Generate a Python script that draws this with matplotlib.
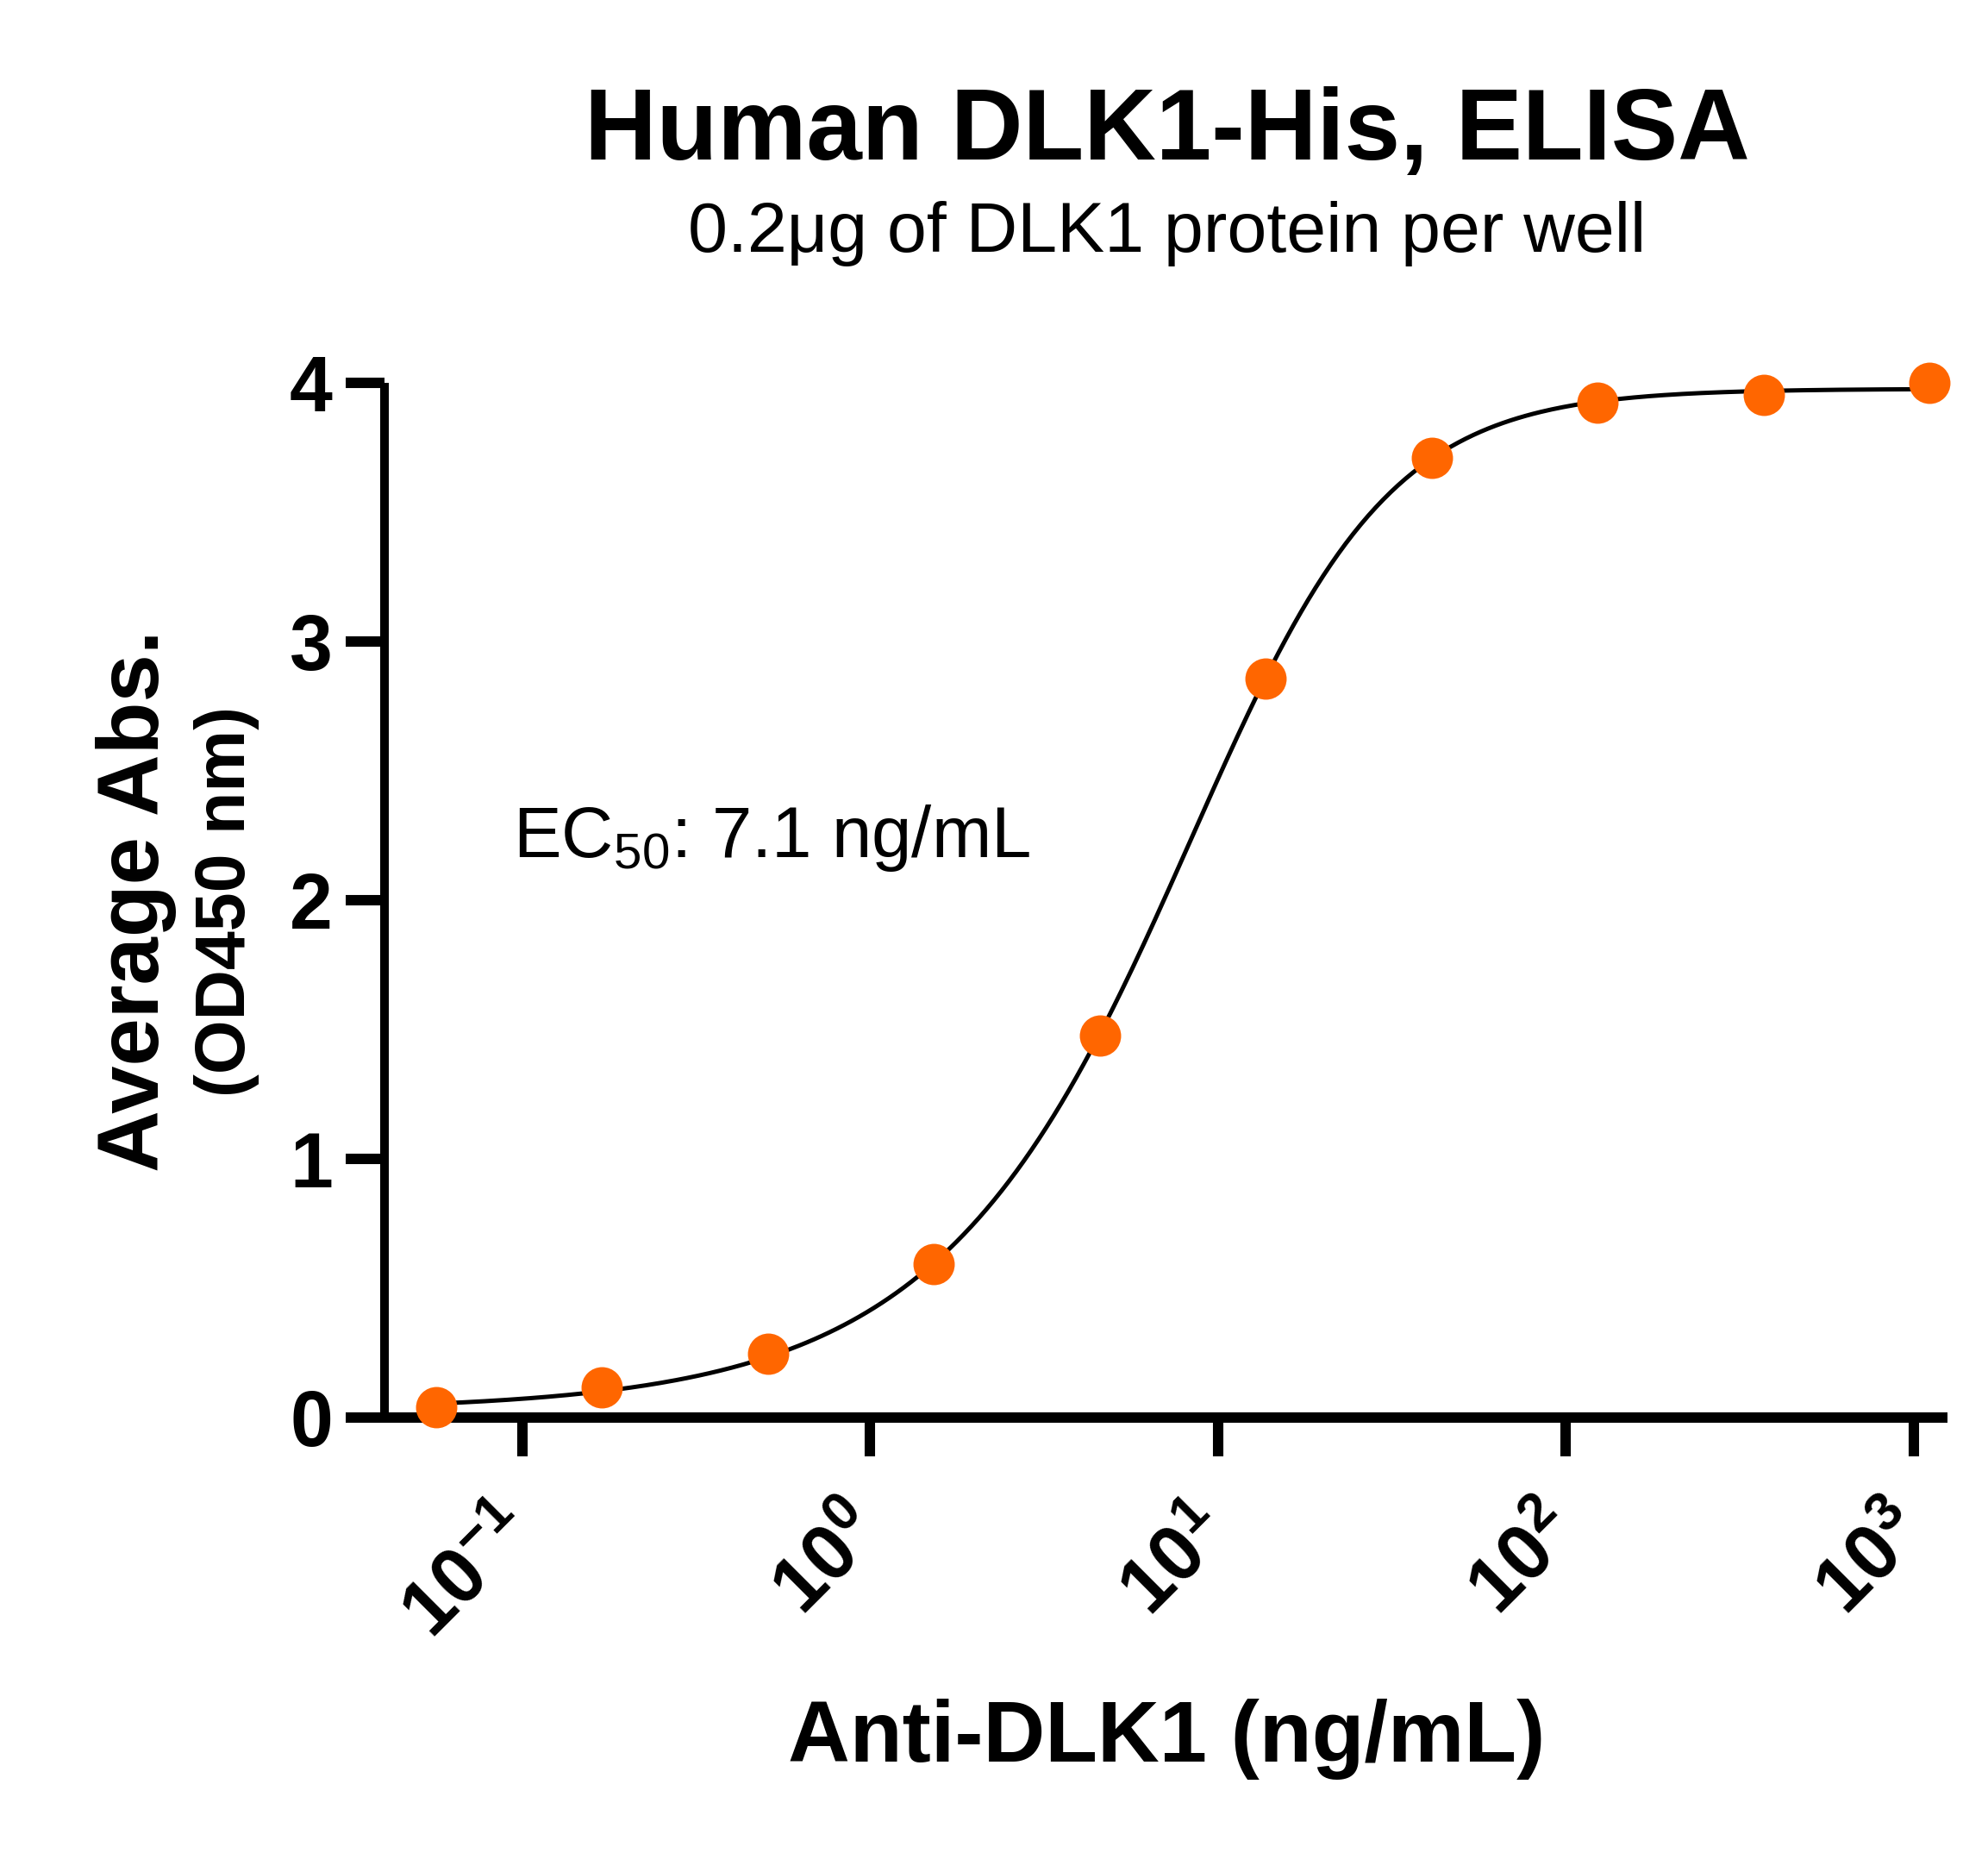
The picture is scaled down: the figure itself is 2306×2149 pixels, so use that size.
import numpy as np
import matplotlib
matplotlib.use("Agg")
import matplotlib.pyplot as plt
from matplotlib.ticker import FixedLocator, FuncFormatter, NullLocator

plt.rcParams['font.family'] = ['Liberation Sans', 'DejaVu Sans']
plt.rcParams['mathtext.default'] = 'regular'

# data: 3-fold dilution series of anti-DLK1 (ng/mL) and mean OD450
conc = [0.0565, 0.1694, 0.508, 1.524, 4.572, 13.72, 41.15, 123.5, 370.4, 1111]
od450 = [0.04, 0.115, 0.245, 0.593, 1.477, 2.855, 3.71, 3.923, 3.953, 4.0]
decades = [-1, 0, 1, 2, 3]
yticks = [0, 1, 2, 3, 4]

title = "Human DLK1-His, ELISA"
subtitle = "0.2\u03bcg of DLK1 protein per well"
xlab = "Anti-DLK1 (ng/mL)"
ylab1 = "Average Abs."
ylab2 = "(OD450 nm)"
ec50_text = "EC$_{50}$: 7.1 ng/mL"

x = np.array(conc)
y = np.array(od450)


# 5PL fit: grid over ec / hill / asymmetry, bottom & top by least squares
def fit5pl(x, y):
    lec = np.linspace(0.2, 1.4, 121)[:, None, None, None]
    h = np.linspace(0.7, 2.2, 61)[None, :, None, None]
    s = np.geomspace(0.4, 2.5, 31)[None, None, :, None]
    f = 1.0 / (1.0 + (10**lec / x)**h)**s
    g = 1 - f
    # normal equations for y = b*g + t*f
    a11 = (g * g).sum(-1); a12 = (g * f).sum(-1); a22 = (f * f).sum(-1)
    r1 = (g * y).sum(-1); r2 = (f * y).sum(-1)
    det = a11 * a22 - a12**2
    b = (a22 * r1 - a12 * r2) / det
    t = (a11 * r2 - a12 * r1) / det
    res = ((b[..., None] * g + t[..., None] * f - y)**2).sum(-1)
    i = np.unravel_index(np.argmin(res), res.shape)
    return b[i], t[i], 10**lec.ravel()[i[0]], h.ravel()[i[1]], s.ravel()[i[2]]


bot, top, ec, hill, asym = fit5pl(x, y)
xs = np.geomspace(x.min(), x.max(), 400)
ys = bot + (top - bot) / (1 + (ec / xs)**hill)**asym

fig = plt.figure(figsize=(2306 / 300, 2149 / 300), dpi=300)
ax = fig.add_axes([0.1934, 0.2350, 0.9796 - 0.1934, 0.7934 - 0.2350])

ax.plot(xs, ys, color='black', lw=1.2, zorder=2, clip_on=False)
ax.plot(x, y, 'o', color='#FF6600', ms=11.5, mec='none', zorder=3, clip_on=False)

ax.set_xscale('log')
ax.set_xlim(10**-1.3965, 10**3.0967)
ax.set_ylim(0, 4)

ax.xaxis.set_major_locator(FixedLocator([10.0**d for d in decades]))
ax.xaxis.set_minor_locator(NullLocator())
ax.xaxis.set_major_formatter(FuncFormatter(lambda v, p: r'$10^{%d}$' % round(np.log10(v))))
ax.set_yticks(yticks)

for s in ['top', 'right']:
    ax.spines[s].set_visible(False)
ax.spines['left'].set_linewidth(2.4)
ax.spines['bottom'].set_linewidth(2.9)
for s in ['left', 'bottom']:
    ax.spines[s].set_capstyle('butt')

ax.tick_params(axis='both', length=10.8, width=2.9, labelsize=21.5)
ax.tick_params(axis='y', pad=3.6)
ax.tick_params(axis='x', pad=18)
for lab in ax.get_yticklabels():
    lab.set_fontweight('bold')
for lab in ax.get_xticklabels():
    lab.set_fontweight('bold')
    lab.set_rotation(45)
    lab.set_ha('right')
    lab.set_va('center')
    lab.set_rotation_mode('anchor')

ax.text(0.094, 2.24, ec50_text, fontsize=20, va='center', ha='left')

fig.text(0.587, 0.928, title, fontsize=27.8, fontweight='bold', ha='center', va='center')
fig.text(0.587, 0.874, subtitle, fontsize=19.8, ha='center', va='center')
fig.text(0.587, 0.0614, xlab, fontsize=23.9, fontweight='bold', ha='center', va='center')
fig.text(158 / 2306, 0.5137, ylab1, fontsize=23.9, fontweight='bold', rotation=90,
         ha='center', va='center')
fig.text(263 / 2306, 0.5137, ylab2, fontsize=19.4, fontweight='bold', rotation=90,
         ha='center', va='center')

fig.savefig('out.png', dpi=300)
